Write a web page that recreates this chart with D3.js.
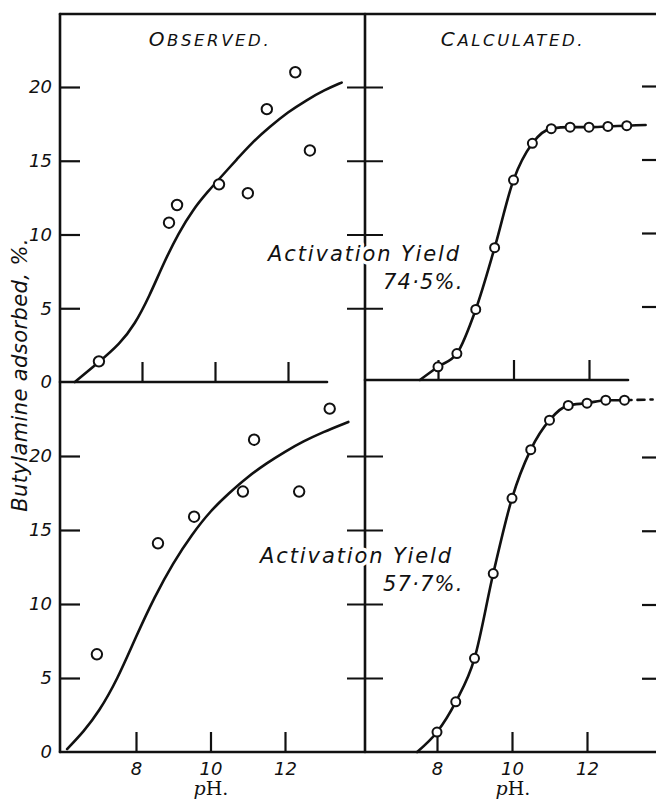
<!DOCTYPE html>
<html><head><meta charset="utf-8">
<script src="https://cdn.jsdelivr.net/npm/d3@7"></script>
<style>body{margin:0;background:#fff}svg{display:block}</style>
</head><body>
<svg id="c" width="656" height="800"></svg>
<script>
// ---------------- data ----------------
const yTickValues = [0, 5, 10, 15, 20];
const xTickValues = [8, 10, 12];

// Observed, top (Activation Yield 74.5%)
const obsTopPH  = [6.82, 8.74, 8.96, 10.11, 10.9, 11.42, 12.2, 12.6];
const obsTopVal = [1.4, 10.8, 12.0, 13.4, 12.8, 18.5, 21.0, 15.7];
const obsTopCurvePH  = [6.16, 6.8, 7.4, 7.8, 8.2, 8.6, 9.0, 9.4, 9.8, 10.2, 10.6, 11.0, 11.5, 12.0, 12.5, 13.0, 13.47];
const obsTopCurveVal = [0, 1.3, 2.6, 3.9, 5.8, 8.1, 10.1, 11.7, 12.9, 14.0, 15.1, 16.2, 17.3, 18.3, 19.1, 19.8, 20.3];

// Observed, bottom (Activation Yield 57.7%)
const obsBotPH  = [6.95, 8.59, 9.56, 10.87, 11.17, 12.38, 13.2];
const obsBotVal = [6.6, 14.1, 15.9, 17.6, 21.1, 17.6, 23.2];
const obsBotCurvePH  = [6.15, 6.6, 7.0, 7.5, 8.0, 8.5, 9.0, 9.5, 10.0, 10.5, 11.0, 11.5, 12.0, 12.5, 13.0, 13.7];
const obsBotCurveVal = [0.2, 1.4, 2.7, 4.9, 7.8, 10.5, 12.8, 14.7, 16.3, 17.5, 18.6, 19.5, 20.3, 21.0, 21.6, 22.3];

// Calculated, top
const calcPH     = [8.0, 8.5, 9.0, 9.5, 10.0, 10.5, 11.0, 11.5, 12.0, 12.5, 13.0];
const calcTopVal = [0.9, 1.8, 4.8, 9.0, 13.6, 16.1, 17.1, 17.2, 17.2, 17.25, 17.3];
const calcTopStart = [7.52, 0], calcTopEnd = [13.5, 17.35];

// Calculated, bottom
const calcBotVal = [1.35, 3.4, 6.35, 12.1, 17.2, 20.5, 22.5, 23.5, 23.65, 23.85, 23.85];
const calcBotStart = [7.47, 0], calcBotEnd = [13.75, 23.9];

// texts
const titles = ["Observed.", "Calculated."];
const yields = ["74·5%.", "57·7%."];
const yieldLabel = "Activation Yield";
const yLabel = "Butylamine adsorbed, %.";

// ---------------- layout ----------------
const svg = d3.select("#c");
const L = 60, M = 365, R = 656, T = 14, B = 752;
const ink = "#111";
const sans = "'DejaVu Sans', sans-serif";
const serif = "'DejaVu Serif', serif";

const panels = {
  TL: { x: d3.scaleLinear().domain([8, 12]).range([142, 288]), y: d3.scaleLinear().domain([0, 20]).range([382, 87]) },
  TR: { x: d3.scaleLinear().domain([8, 12]).range([438, 589]), y: d3.scaleLinear().domain([0, 20]).range([380, 86]) },
  BL: { x: d3.scaleLinear().domain([8, 12]).range([136, 285]), y: d3.scaleLinear().domain([0, 20]).range([752, 456]) },
  BR: { x: d3.scaleLinear().domain([8, 12]).range([437, 587]), y: d3.scaleLinear().domain([0, 20]).range([752, 457]) }
};

const lineStyle = sel => sel.attr("stroke", ink).attr("stroke-width", 2.6).attr("fill", "none").attr("stroke-linecap", "round");

// ---------------- frame ----------------
const frame = svg.append("g");
[[L, T, R, T], [L, T, L, B], [M, T, M, B], [L, B, R, B],
 [L, panels.TL.y(0), 327, panels.TL.y(0)], [M, panels.TR.y(0), 628, panels.TR.y(0)]]
  .forEach(d => frame.append("line").attr("x1", d[0]).attr("y1", d[1]).attr("x2", d[2]).attr("y2", d[3]).call(lineStyle));

// ---------------- axes ----------------
function styleAxis(g) {
  g.select(".domain").remove();
  g.selectAll(".tick line").attr("stroke", ink).attr("stroke-width", 2.2);
  g.selectAll(".tick text").attr("fill", ink).attr("font-family", sans).attr("font-style", "italic").attr("font-size", 18);
}
[["TL", panels.TL], ["BL", panels.BL]].forEach(([k, p]) => {
  svg.append("g").attr("transform", `translate(${L},0)`)
    .call(d3.axisLeft(p.y).tickValues(yTickValues).tickSize(-20).tickPadding(8))
    .call(styleAxis)
    .call(g => g.selectAll(".tick").filter(d => d === 0).select("line").remove());
  svg.append("g").attr("transform", `translate(${M - 18},0)`)
    .call(d3.axisRight(p.y).tickValues(yTickValues.slice(1)).tickSize(36).tickFormat(""))
    .call(styleAxis);
});
[panels.TR, panels.BR].forEach(p => {
  svg.append("g").attr("transform", `translate(${R - 14},0)`)
    .call(d3.axisRight(p.y).tickValues(yTickValues.slice(1)).tickSize(24).tickFormat(""))
    .call(styleAxis);
});
["TL", "TR", "BL", "BR"].forEach(k => {
  const p = panels[k];
  const bottom = k[0] === "B";
  const ax = d3.axisBottom(p.x).tickValues(xTickValues).tickSize(-20).tickPadding(10).tickFormat(d3.format("d"));
  if (!bottom) ax.tickFormat("");
  svg.append("g").attr("transform", `translate(0,${p.y(0)})`).call(ax).call(styleAxis);
});

// ---------------- curves & points ----------------
const zip = (a, b) => a.map((v, i) => [v, b[i]]);
function drawCurve(p, pts, curve) {
  const line = d3.line().x(d => p.x(d[0])).y(d => p.y(d[1])).curve(curve);
  svg.append("path").datum(pts).attr("d", line).call(lineStyle);
}
function drawPoints(p, pts, r) {
  svg.append("g").selectAll("circle").data(pts).join("circle")
    .attr("cx", d => p.x(d[0])).attr("cy", d => p.y(d[1])).attr("r", r)
    .attr("fill", "#fff").attr("stroke", ink).attr("stroke-width", 2);
}
drawCurve(panels.TL, zip(obsTopCurvePH, obsTopCurveVal), d3.curveBasis);
drawPoints(panels.TL, zip(obsTopPH, obsTopVal), 5.2);
drawCurve(panels.BL, zip(obsBotCurvePH, obsBotCurveVal), d3.curveBasis);
drawPoints(panels.BL, zip(obsBotPH, obsBotVal), 5.2);

const topCalc = zip(calcPH, calcTopVal);
drawCurve(panels.TR, [calcTopStart, ...topCalc, calcTopEnd], d3.curveMonotoneX);
drawPoints(panels.TR, topCalc, 4.5);
const botCalc = zip(calcPH, calcBotVal);
drawCurve(panels.BR, [calcBotStart, ...botCalc], d3.curveMonotoneX);
svg.append("path").datum([botCalc[botCalc.length - 1], calcBotEnd])
  .attr("d", d3.line().x(d => panels.BR.x(d[0])).y(d => panels.BR.y(d[1])))
  .call(lineStyle).attr("stroke-dasharray", "7 6");
drawPoints(panels.BR, botCalc, 4.5);

// ---------------- texts ----------------
function title(x, txt) {
  const t = svg.append("text").attr("x", x).attr("y", 46).attr("text-anchor", "middle")
    .attr("font-family", sans).attr("font-style", "italic").attr("fill", ink).attr("letter-spacing", 2.6);
  t.append("tspan").attr("font-size", 20).text(txt[0].toUpperCase());
  t.append("tspan").attr("font-size", 16.5).text(txt.slice(1).toUpperCase());
}
title(210, titles[0]);
title(513, titles[1]);

function yieldText(x, y, y2, pct) {
  const halo = sel => sel.attr("stroke", "#fff").attr("stroke-width", 7).attr("paint-order", "stroke").attr("stroke-linejoin", "round");
  svg.append("text").attr("x", x).attr("y", y).attr("font-family", sans).attr("font-style", "italic")
    .attr("font-size", 21).attr("fill", ink).attr("letter-spacing", 1.9).call(halo).text(yieldLabel);
  svg.append("text").attr("x", 383).attr("y", y2).attr("font-family", sans).attr("font-style", "italic")
    .attr("font-size", 21).attr("fill", ink).attr("letter-spacing", 1.2).call(halo).text(pct);
}
yieldText(268, 261, 289, yields[0]);
yieldText(260, 563, 591, yields[1]);

svg.append("text").attr("transform", "translate(27,375) rotate(-90)").attr("text-anchor", "middle")
  .attr("font-family", sans).attr("font-style", "italic").attr("font-size", 21).attr("fill", ink)
  .attr("letter-spacing", 0.4).text(yLabel);

[[panels.BL, 211], [panels.BR, 513]].forEach(([p, x]) => {
  const t = svg.append("text").attr("x", x).attr("y", 795).attr("text-anchor", "middle")
    .attr("font-family", serif).attr("font-size", 19).attr("fill", ink);
  t.append("tspan").attr("font-style", "italic").text("p");
  t.append("tspan").text("H.");
});
</script>
</body></html>
